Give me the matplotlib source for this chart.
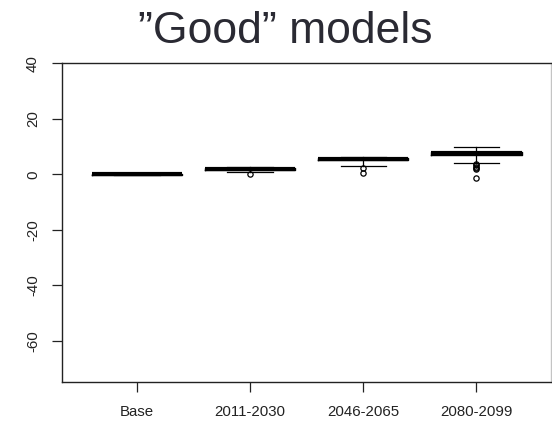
import matplotlib.pyplot as plt

periods = ["Base", "2011-2030", "2046-2065", "2080-2099"]

# box summary per period (change relative to base)
medians = [0.0, 2.0, 5.5, 7.5]
q1 = [-0.2, 1.6, 5.0, 6.9]
q3 = [0.2, 2.3, 6.0, 8.0]
whis_lo = [-0.2, 0.9, 3.0, 4.0]
whis_hi = [0.2, 2.6, 6.3, 10.0]
outliers = [
    [],
    [0.2],
    [2.2, 0.5],
    [3.6, 3.2, 2.8, 2.4, 2.0, -1.2],
]

stats = []
for i, name in enumerate(periods):
    stats.append({
        "label": name,
        "med": medians[i],
        "q1": q1[i],
        "q3": q3[i],
        "whislo": whis_lo[i],
        "whishi": whis_hi[i],
        "fliers": outliers[i],
    })

plt.rcParams["font.family"] = ["Liberation Sans", "DejaVu Sans"]
plt.rcParams["axes.unicode_minus"] = False

fig = plt.figure(figsize=(5.52, 4.21), dpi=100)
ax = fig.add_axes([62.3 / 552, 1 - 381.5 / 421, (551 - 62.3) / 552, (381.5 - 63.3) / 421])

ax.bxp(
    stats,
    positions=[1, 2, 3, 4],
    widths=0.8,
    capwidths=0.4,
    boxprops=dict(color="black", linewidth=1.0),
    medianprops=dict(color="black", linewidth=3.0),
    whiskerprops=dict(color="black", linewidth=0.9),
    capprops=dict(color="black", linewidth=0.9),
    flierprops=dict(marker="o", markersize=3.8, markerfacecolor="none",
                    markeredgecolor="black", markeredgewidth=0.9),
)

ax.set_xlim(0.34, 4.66)
ax.set_ylim(-74.7, 40)
ax.set_yticks([-60, -40, -20, 0, 20, 40])
ax.set_xticks([1, 2, 3, 4])
ax.set_xticklabels(periods)

for side in ["left", "bottom", "top"]:
    ax.spines[side].set_color("#222222")
    ax.spines[side].set_linewidth(1.0)
ax.spines["right"].set_color("#c4c4c4")
ax.spines["right"].set_linewidth(1.0)

ax.tick_params(axis="both", direction="out", length=7, width=0.9,
               colors="#222222", labelsize=10.8)
ax.tick_params(axis="x", pad=10)
ax.tick_params(axis="y", pad=9)
for lab in ax.get_yticklabels():
    lab.set_rotation(90)
    lab.set_verticalalignment("center")

fig.text(285.5 / 552, 1 - 43 / 421, "\u201dGood\u201d models", ha="center",
         va="baseline", fontsize=32, color="#2a2a33")

fig.savefig("out.png", dpi=100)
